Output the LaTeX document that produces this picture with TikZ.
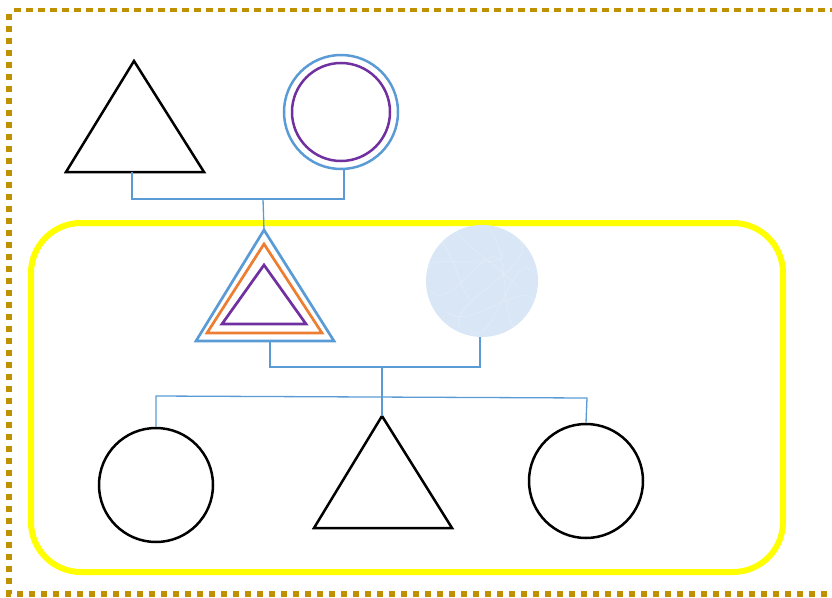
\documentclass[tikz,border=0pt]{standalone}
\definecolor{cblue}{RGB}{91,155,213}
\definecolor{corange}{RGB}{237,125,49}
\definecolor{cpurple}{RGB}{112,48,160}
\definecolor{cgold}{RGB}{191,144,0}
\definecolor{cyel}{RGB}{255,255,0}
\definecolor{ctex}{RGB}{216,230,246}
\tikzset{
  conn/.style={draw=cblue, line width=1.3pt},
  blackshape/.style={draw=black, line width=2.5pt, line join=miter},
  ring/.style={circle, inner sep=0pt, line width=2.5pt},
  colortri/.style={line width=2.7pt, line join=miter},
}
\begin{document}
\begin{tikzpicture}[x=1pt,y=-1pt]
\useasboundingbox (0,0) rectangle (832,597);
% outer dotted/dashed frame
\draw[cgold, line width=3.5pt, dash pattern=on 7pt off 5pt] (14,10) -- (840,10);
\draw[cgold, line width=5.5pt, dash pattern=on 5.5pt off 6.5pt] (9,14) -- (9,594) -- (840,594);
% yellow rounded container
\draw[cyel, line width=6pt, rounded corners=50pt] (31,223) rectangle (783,572);

% top row
\coordinate (t1a) at (134,61);
\coordinate (t1l) at (66,172);
\coordinate (t1r) at (204,172);
\draw[blackshape] (t1a) -- (t1r) -- (t1l) -- cycle;
\coordinate (t1b) at (132,172);
\node[ring, draw=cblue, minimum size=114pt] (c0) at (341,112) {};
\node[ring, draw=cpurple, minimum size=98pt] (c0i) at (341,112) {};
\coordinate (c0b) at (344,170);

% nested triangle
\coordinate (t2a) at (264,230);
\draw[cblue, colortri] (t2a) -- (334,341) -- (196,341) -- cycle;
\draw[corange, colortri] (264,244) -- (322,333) -- (207,333) -- cycle;
\draw[cpurple, colortri] (264,265) -- (306,324) -- (222,324) -- cycle;
\coordinate (t2b) at (270,341);

% textured circle
\node[circle, fill=ctex, minimum size=112pt, inner sep=0pt] (tex) at (482,281) {};
\begin{scope}
\clip (482,281) circle (56pt);
\foreach \a/\b/\c/\d in {440/240/470/300, 455/230/520/290, 430/290/500/260, 470/330/530/270, 490/230/515/330, 445/310/535/300, 500/250/430/270, 520/240/460/325}{
  \draw[white, opacity=0.18, line width=1pt] (\a,\b) .. controls (\a+20,\b+25) and (\c-15,\d-20) .. (\c,\d);
}
\end{scope}
\coordinate (texb) at (480,337);

% connectors upper
\coordinate (j1) at (263,199);
\draw[conn] (t1b) |- (j1) -| (c0b);
\draw[conn] (j1) -- (t2a);

% bottom row
\node[ring, draw=black, minimum size=114pt] (c1) at (156,485) {};
\coordinate (t3a) at (382,416);
\draw[blackshape] (t3a) -- (452,528) -- (314,528) -- cycle;
\node[ring, draw=black, minimum size=114pt] (c2) at (586,481) {};

% connectors lower
\coordinate (j2) at (382,367);
\draw[conn] (t2b) |- (j2) -| (texb);
\draw[conn] (j2) -- (t3a);
\coordinate (h1) at (156,396);
\coordinate (h2) at (587,398);
\draw[conn] (c1.north) -- (h1) -- (h2) -- (c2.north);
\end{tikzpicture}
\end{document}
